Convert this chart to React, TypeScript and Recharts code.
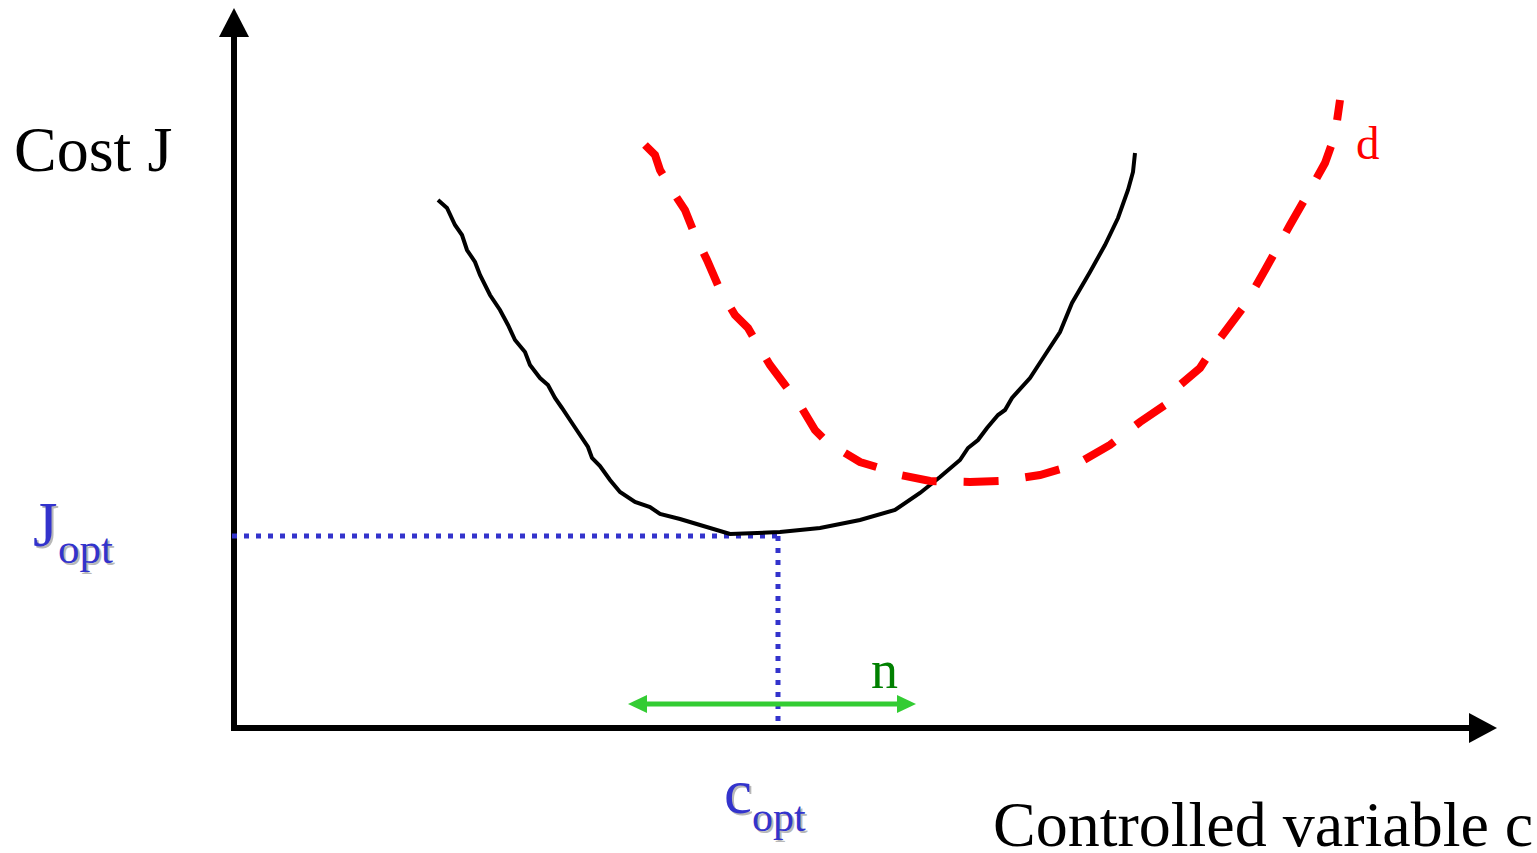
import {
	ComposedChart,
	Line,
	XAxis,
	YAxis,
	ReferenceLine,
	ReferenceDot,
	Customized,
} from 'recharts';

// controlled variable c vs cost J (arbitrary units)
const costCurve = [
	{ c: 2.04, J: 5.28 }, { c: 2.13, J: 5.2 }, { c: 2.21, J: 5.03 }, { c: 2.28, J: 4.93 },
	{ c: 2.33, J: 4.78 }, { c: 2.41, J: 4.66 }, { c: 2.46, J: 4.53 }, { c: 2.56, J: 4.33 },
	{ c: 2.66, J: 4.18 }, { c: 2.74, J: 4.03 }, { c: 2.81, J: 3.88 }, { c: 2.91, J: 3.76 },
	{ c: 2.96, J: 3.63 }, { c: 3.06, J: 3.5 }, { c: 3.14, J: 3.43 }, { c: 3.21, J: 3.3 },
	{ c: 3.28, J: 3.2 }, { c: 3.36, J: 3.08 }, { c: 3.44, J: 2.96 }, { c: 3.54, J: 2.81 },
	{ c: 3.58, J: 2.7 }, { c: 3.66, J: 2.62 }, { c: 3.76, J: 2.48 }, { c: 3.86, J: 2.36 },
	{ c: 4.01, J: 2.26 }, { c: 4.16, J: 2.21 }, { c: 4.26, J: 2.14 }, { c: 4.46, J: 2.09 },
	{ c: 4.66, J: 2.03 }, { c: 4.96, J: 1.94 }, { c: 5.46, J: 1.96 }, { c: 5.86, J: 2.0 },
	{ c: 6.26, J: 2.08 }, { c: 6.61, J: 2.18 }, { c: 6.86, J: 2.35 }, { c: 7.06, J: 2.51 },
	{ c: 7.26, J: 2.68 }, { c: 7.34, J: 2.8 }, { c: 7.44, J: 2.88 }, { c: 7.53, J: 3.0 },
	{ c: 7.64, J: 3.13 }, { c: 7.71, J: 3.18 }, { c: 7.78, J: 3.3 }, { c: 7.96, J: 3.5 },
	{ c: 8.11, J: 3.73 }, { c: 8.26, J: 3.96 }, { c: 8.38, J: 4.25 }, { c: 8.56, J: 4.56 },
	{ c: 8.71, J: 4.83 }, { c: 8.84, J: 5.1 }, { c: 8.94, J: 5.38 }, { c: 8.99, J: 5.56 },
	{ c: 9.01, J: 5.75 },
];

// cost curve shifted by disturbance d
const disturbedCurve = [
	{ c: 4.11, J: 5.83 }, { c: 4.21, J: 5.73 }, { c: 4.26, J: 5.58 }, { c: 4.41, J: 5.33 },
	{ c: 4.51, J: 5.18 }, { c: 4.61, J: 4.93 }, { c: 4.73, J: 4.68 }, { c: 4.86, J: 4.38 },
	{ c: 5.01, J: 4.13 }, { c: 5.14, J: 4.0 }, { c: 5.21, J: 3.88 }, { c: 5.36, J: 3.63 },
	{ c: 5.51, J: 3.43 }, { c: 5.66, J: 3.23 }, { c: 5.81, J: 2.98 }, { c: 5.91, J: 2.88 },
	{ c: 6.06, J: 2.78 }, { c: 6.26, J: 2.66 }, { c: 6.46, J: 2.6 }, { c: 6.66, J: 2.53 },
	{ c: 6.96, J: 2.47 }, { c: 7.36, J: 2.46 }, { c: 7.66, J: 2.47 }, { c: 8.06, J: 2.53 },
	{ c: 8.41, J: 2.63 }, { c: 8.76, J: 2.83 }, { c: 9.06, J: 3.06 }, { c: 9.31, J: 3.23 },
	{ c: 9.46, J: 3.43 }, { c: 9.66, J: 3.6 }, { c: 9.81, J: 3.83 }, { c: 9.96, J: 4.03 },
	{ c: 10.11, J: 4.23 }, { c: 10.31, J: 4.58 }, { c: 10.56, J: 5.03 }, { c: 10.76, J: 5.38 },
	{ c: 10.91, J: 5.65 }, { c: 11.01, J: 5.93 }, { c: 11.06, J: 6.28 },
];

const cOpt = 5.44;
const jOpt = 1.92;
const noiseRange = [3.94, 6.82];
const noiseLevel = 0.24;
const xMax = 12.63;
const yMax = 7.2;

const BLUE = '#3333cc';
const SERIF = '"Liberation Serif", "Times New Roman", serif';

const arrowUp = ({ cx, cy }: any) => (
	<polygon points={`${cx},${cy} ${cx - 15},${cy + 29} ${cx + 15},${cy + 29}`} fill='#000' />
);
const arrowRight = ({ cx, cy }: any) => (
	<polygon points={`${cx},${cy} ${cx - 28},${cy - 15} ${cx - 28},${cy + 15}`} fill='#000' />
);
const greenLeft = ({ cx, cy }: any) => (
	<polygon points={`${cx},${cy} ${cx + 19},${cy - 9} ${cx + 19},${cy + 9}`} fill='#33cc33' />
);
const greenRight = ({ cx, cy }: any) => (
	<polygon points={`${cx},${cy} ${cx - 19},${cy - 9} ${cx - 19},${cy + 9}`} fill='#33cc33' />
);

const Shadowed = ({ x, y, main, sub, size, subSize, subDx, subDy }: any) => (
	<g fontFamily={SERIF}>
		<g fill='#b8b8b8' transform='translate(2,2)'>
			<text x={x} y={y} fontSize={size}>{main}</text>
			<text x={x + subDx} y={y + subDy} fontSize={subSize}>{sub}</text>
		</g>
		<g fill={BLUE}>
			<text x={x} y={y} fontSize={size}>{main}</text>
			<text x={x + subDx} y={y + subDy} fontSize={subSize}>{sub}</text>
		</g>
	</g>
);

const Labels = () => (
	<g fontFamily={SERIF}>
		<text x={14} y={171} fontSize={64} fill='#000'>Cost J</text>
		<text x={993} y={846} fontSize={64} fill='#000'>Controlled variable c</text>
		<text x={1356} y={159} fontSize={47} fill='#ff0000'>d</text>
		<text x={871} y={688} fontSize={54} fill='#008000'>n</text>
		<Shadowed x={33} y={546} main='J' sub='opt' size={63} subSize={43} subDx={25} subDy={17} />
		<Shadowed x={724} y={813} main='c' sub='opt' size={63} subSize={42} subDx={28} subDy={18} />
	</g>
);

const App = () => {
	return (
		<div style={{ position: 'absolute', left: 0, top: 0, width: 1537, height: 853, background: '#fff' }}>
			<ComposedChart
				width={1537}
				height={853}
				margin={{ top: 8, right: 40, bottom: 125, left: 234 }}>
				<XAxis type='number' dataKey='c' domain={[0, xMax]} allowDataOverflow hide />
				<YAxis type='number' dataKey='J' domain={[0, yMax]} allowDataOverflow hide />

				{/* axes */}
				<ReferenceLine
					segment={[{ x: 0, y: -0.03 }, { x: 0, y: 6.93 }]}
					stroke='#000'
					strokeWidth={6}
					ifOverflow='visible'
				/>
				<ReferenceLine
					segment={[{ x: 0, y: 0 }, { x: 12.37, y: 0 }]}
					stroke='#000'
					strokeWidth={6}
					ifOverflow='visible'
				/>
				<ReferenceDot x={0} y={yMax} r={0} shape={arrowUp} ifOverflow='visible' />
				<ReferenceDot x={xMax} y={0} r={0} shape={arrowRight} ifOverflow='visible' />

				{/* optimum */}
				<ReferenceLine
					segment={[{ x: -0.02, y: jOpt }, { x: cOpt, y: jOpt }]}
					stroke={BLUE}
					strokeWidth={5}
					strokeDasharray='5 7'
					ifOverflow='visible'
				/>
				<ReferenceLine
					segment={[{ x: cOpt, y: jOpt }, { x: cOpt, y: 0.06 }]}
					stroke={BLUE}
					strokeWidth={5}
					strokeDasharray='5 7'
					ifOverflow='visible'
				/>

				{/* implementation error n */}
				<ReferenceLine
					segment={[{ x: noiseRange[0] + 0.15, y: noiseLevel }, { x: noiseRange[1] - 0.15, y: noiseLevel }]}
					stroke='#33cc33'
					strokeWidth={5}
					ifOverflow='visible'
				/>
				<ReferenceDot x={noiseRange[0]} y={noiseLevel} r={0} shape={greenLeft} ifOverflow='visible' />
				<ReferenceDot x={noiseRange[1]} y={noiseLevel} r={0} shape={greenRight} ifOverflow='visible' />

				<Line
					data={costCurve}
					dataKey='J'
					type='linear'
					stroke='#000'
					strokeWidth={4}
					dot={false}
					activeDot={false}
					isAnimationActive={false}
				/>
				<Line
					data={disturbedCurve}
					dataKey='J'
					type='linear'
					stroke='#ff0000'
					strokeWidth={8}
					strokeDasharray='35 27'
					dot={false}
					activeDot={false}
					isAnimationActive={false}
				/>
				<Customized component={Labels} />
			</ComposedChart>
		</div>
	);
};

export default App;
